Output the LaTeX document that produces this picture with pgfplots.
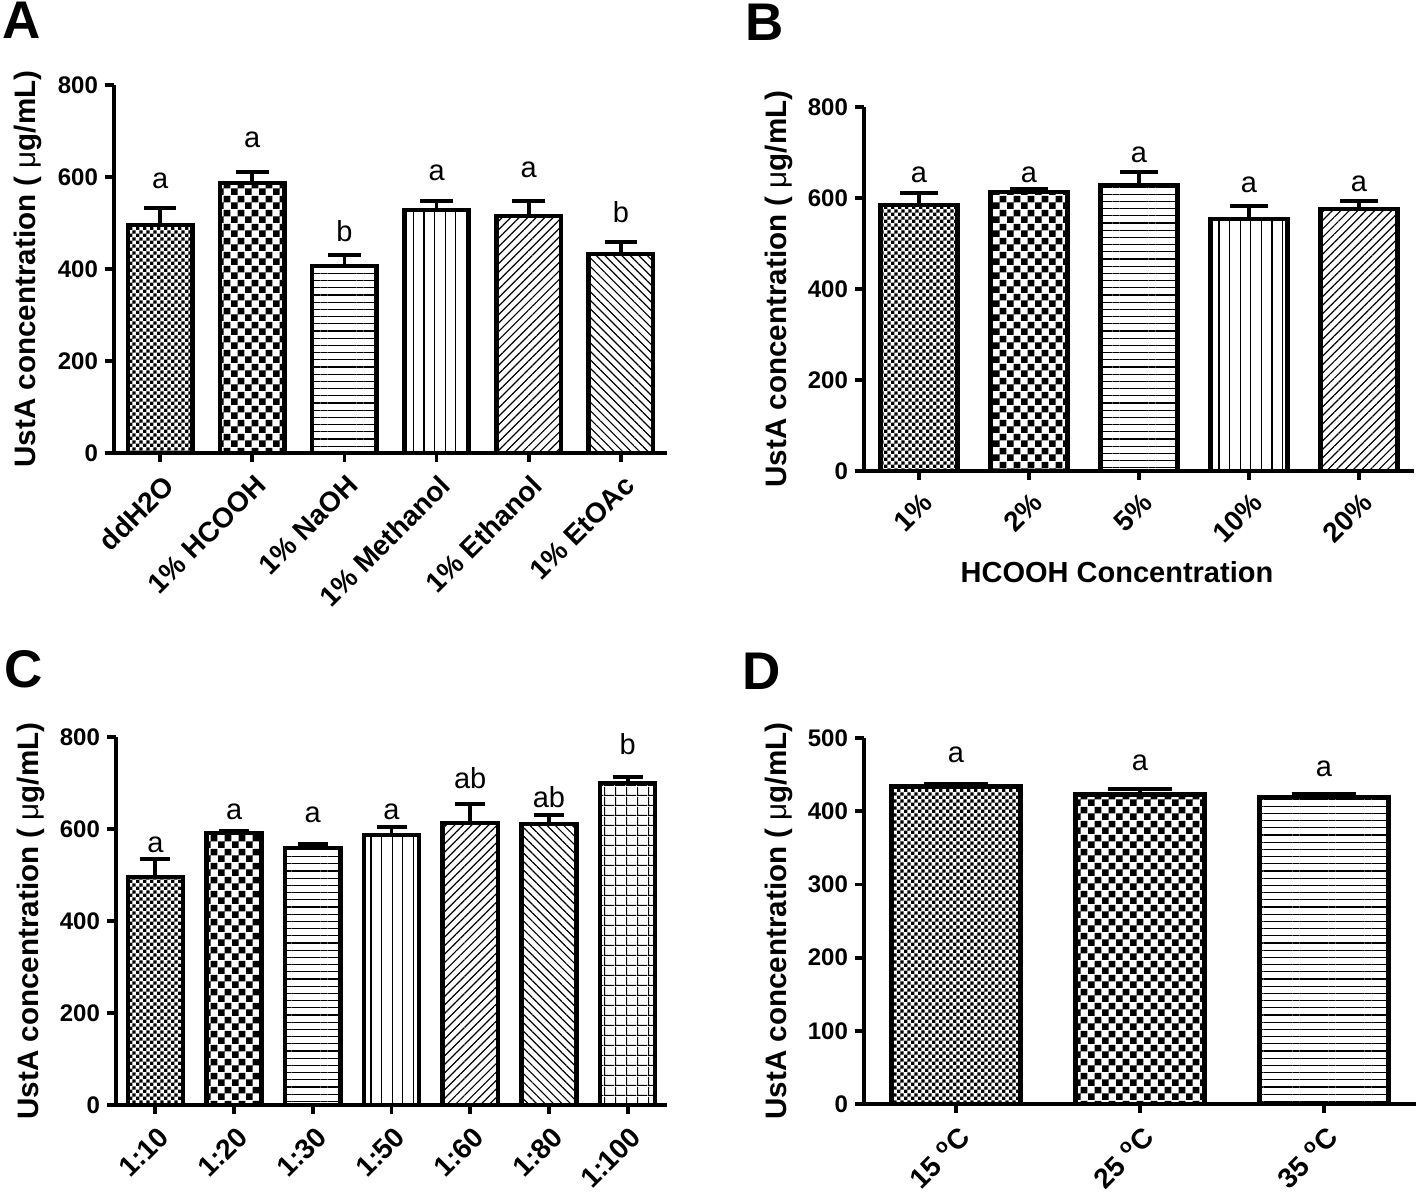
\documentclass[border=0pt]{standalone}
\usepackage{pgfplots}
\pgfplotsset{compat=1.18}
\usepackage{fontspec}
\usepackage{graphicx}
\setmainfont{Liberation Sans}
\usetikzlibrary{patterns,patterns.meta}

\pgfdeclarepatternformonly{finechecker}{\pgfpointorigin}{\pgfqpoint{3.4pt}{3.4pt}}{\pgfqpoint{3.4pt}{3.4pt}}{%
  \pgfpathrectangle{\pgfpointorigin}{\pgfqpoint{1.7pt}{1.7pt}}%
  \pgfpathrectangle{\pgfqpoint{1.7pt}{1.7pt}}{\pgfqpoint{1.7pt}{1.7pt}}%
  \pgfusepath{fill}}
\pgfdeclarepatternformonly{coarsechecker}{\pgfpointorigin}{\pgfqpoint{6.8pt}{6.8pt}}{\pgfqpoint{6.8pt}{6.8pt}}{%
  \pgfpathrectangle{\pgfpointorigin}{\pgfqpoint{3.4pt}{3.4pt}}%
  \pgfpathrectangle{\pgfqpoint{3.4pt}{3.4pt}}{\pgfqpoint{3.4pt}{3.4pt}}%
  \pgfusepath{fill}}
\pgfdeclarepatternformonly{mygrid}{\pgfpointorigin}{\pgfqpoint{5.3pt}{5pt}}{\pgfqpoint{5.3pt}{5pt}}{%
  \pgfpathrectangle{\pgfpointorigin}{\pgfqpoint{0.6pt}{5pt}}%
  \pgfpathrectangle{\pgfpointorigin}{\pgfqpoint{5.3pt}{0.6pt}}%
  \pgfusepath{fill}}

\tikzset{
  pfine/.style={pattern=finechecker},
  pcoarse/.style={pattern=coarsechecker},
  phor/.style={pattern={Lines[angle=0,distance=3.6pt,line width=0.6pt]}},
  pver/.style={pattern={Lines[angle=90,distance=5.3pt,line width=0.6pt]}},
  pne/.style={pattern={Lines[angle=45,distance=3pt,line width=0.6pt]}},
  pnw/.style={pattern={Lines[angle=-45,distance=3pt,line width=0.6pt]}},
  pgrid/.style={pattern=mygrid},
  lett/.style={font=\fontsize{14.5}{16}\selectfont, anchor=base, inner sep=0pt},
  plabel/.style={font=\bfseries\fontsize{26.5}{28}\selectfont, anchor=north west, inner sep=0pt},
}

\pgfplotsset{
  panel/.style={
    scale only axis, anchor=south west,
    axis lines=left, axis line style={-, line width=1.9pt},
    ybar, bar width=0.7, bar shift=0pt,
    ymin=0, enlargelimits=false, clip=false,
    major tick length=4.5pt, tick align=outside,
    major tick style={line width=1.9pt, black},
    /pgf/number format/assume math mode=true,
    yticklabel style={font=\bfseries\fontsize{12}{13}\selectfont},
    xticklabel style={font=\bfseries\fontsize{14}{15}\selectfont, rotate=45, anchor=north east, yshift=-1pt},
    ylabel={UstA concentration ( {\mdseries μ}g/mL)},
    ylabel style={font=\bfseries\fontsize{14.8}{16}\selectfont, at={(axis description cs:-0.155,0.5)}, anchor=center},
    every axis plot post/.append style={bar shift=0pt, draw=black, line width=2.2pt},
    every axis plot/.append style={
      /pgfplots/error bars/y dir=plus,
      /pgfplots/error bars/y explicit,
      /pgfplots/error bars/error bar style={line width=1.9pt, black},
      /pgfplots/error bars/error mark options={rotate=90, line width=1.9pt, black, mark size=#1}},
  },
}

\begin{document}
\begin{tikzpicture}
\path[use as bounding box] (0,0) rectangle (709pt,597.5pt);

% ---------------- Panel A ----------------
\node[plabel] at (1pt,596.5pt) {A};
\begin{axis}[panel=8.2pt, at={(57pt,371pt)}, width=276.5pt, height=184pt,
  xmin=-0.5, xmax=5.5, ymax=800, ytick={0,200,400,600,800},
  xtick={0,1,2,3,4,5},
  xticklabels={ddH2O, 1\% HCOOH, 1\% NaOH, 1\% Methanol, 1\% Ethanol, 1\% EtOAc}]
\addplot[pfine]   coordinates {(0,495) +- (0,37)};
\addplot[pcoarse] coordinates {(1,587) +- (0,24)};
\addplot[phor]    coordinates {(2,407) +- (0,23)};
\addplot[pver]    coordinates {(3,528) +- (0,20)};
\addplot[pne]     coordinates {(4,515) +- (0,33)};
\addplot[pnw]     coordinates {(5,433) +- (0,26)};
\node[lett] at (axis cs:0,576) {a};
\node[lett] at (axis cs:1,665) {a};
\node[lett] at (axis cs:2,459) {b};
\node[lett] at (axis cs:3,593) {a};
\node[lett] at (axis cs:4,598) {a};
\node[lett] at (axis cs:5,500) {b};
\end{axis}

% ---------------- Panel B ----------------
\node[plabel] at (372.5pt,595.5pt) {B};
\begin{axis}[panel=9.5pt, at={(432pt,362pt)}, width=275pt, height=182pt,
  xmin=-0.5, xmax=4.5, ymax=800, ytick={0,200,400,600,800},
  xtick={0,1,2,3,4},
  xticklabels={1\%, 2\%, 5\%, 10\%, 20\%},
  xlabel={HCOOH Concentration},
  xlabel style={font=\bfseries\fontsize{14.5}{16}\selectfont, at={(axis description cs:0.46,-0.2775)}, anchor=center}]
\addplot[pfine]   coordinates {(0,585) +- (0,26)};
\addplot[pcoarse] coordinates {(1,613) +- (0,7)};
\addplot[phor]    coordinates {(2,629) +- (0,28)};
\addplot[pver]    coordinates {(3,554) +- (0,28)};
\addplot[pne]     coordinates {(4,576) +- (0,17)};
\node[lett] at (axis cs:0,633) {a};
\node[lett] at (axis cs:1,633) {a};
\node[lett] at (axis cs:2,679) {a};
\node[lett] at (axis cs:3,611) {a};
\node[lett] at (axis cs:4,614) {a};
\end{axis}

% ---------------- Panel C ----------------
\node[plabel] at (2pt,272.5pt) {C};
\begin{axis}[panel=7.5pt, at={(58pt,45pt)}, width=275.5pt, height=184pt,
  xmin=-0.5, xmax=6.5, ymax=800, ytick={0,200,400,600,800},
  xtick={0,1,2,3,4,5,6},
  xticklabels={1:10, 1:20, 1:30, 1:50, 1:60, 1:80, 1:100}]
\addplot[pfine]   coordinates {(0,496) +- (0,39)};
\addplot[pcoarse] coordinates {(1,591) +- (0,5)};
\addplot[phor]    coordinates {(2,559) +- (0,8)};
\addplot[pver]    coordinates {(3,587) +- (0,17)};
\addplot[pne]     coordinates {(4,613) +- (0,41)};
\addplot[pnw]     coordinates {(5,611) +- (0,19)};
\addplot[pgrid]   coordinates {(6,700) +- (0,13)};
\node[lett] at (axis cs:0,548) {a};
\node[lett] at (axis cs:1,620) {a};
\node[lett] at (axis cs:2,615) {a};
\node[lett] at (axis cs:3,620) {a};
\node[lett] at (axis cs:4,689) {ab};
\node[lett] at (axis cs:5,646) {ab};
\node[lett] at (axis cs:6,761) {b};
\end{axis}

% ---------------- Panel D ----------------
\node[plabel] at (371pt,271pt) {D};
\begin{axis}[panel=16pt, at={(432pt,45.5pt)}, width=276pt, height=183pt,
  xmin=-0.5, xmax=2.5, ymax=500, ytick={0,100,200,300,400,500},
  xtick={0,1,2},
  xticklabels={15 \textsuperscript{o}C, 25 \textsuperscript{o}C, 35 \textsuperscript{o}C}]
\addplot[pfine]   coordinates {(0,434) +- (0,3)};
\addplot[pcoarse] coordinates {(1,423) +- (0,7)};
\addplot[phor]    coordinates {(2,419) +- (0,4)};
\node[lett] at (axis cs:0,467) {a};
\node[lett] at (axis cs:1,456) {a};
\node[lett] at (axis cs:2,448) {a};
\end{axis}
\end{tikzpicture}
\end{document}
